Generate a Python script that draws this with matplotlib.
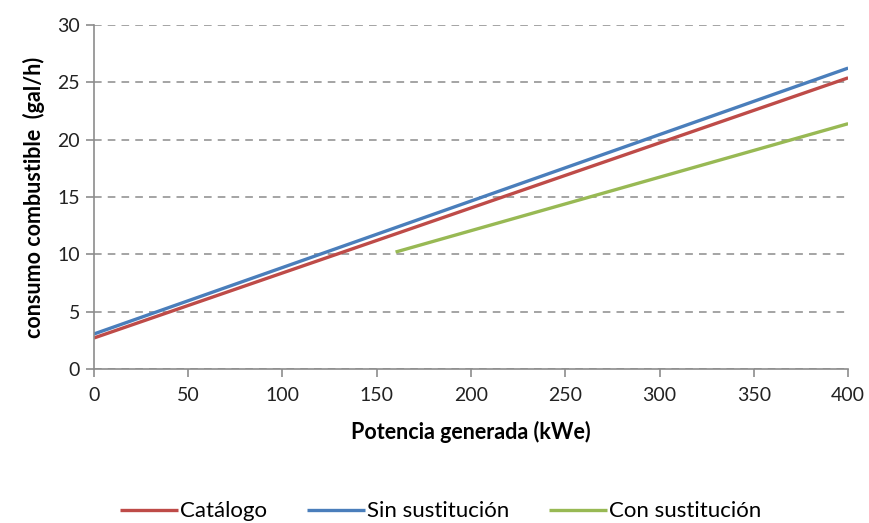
import numpy as np
import matplotlib.pyplot as plt

plt.rcParams['font.family'] = ['Lato', 'DejaVu Sans']

# datos
x_cat = [0, 200, 400]
y_cat = [2.7, 14.05, 25.4]

x_sin = [0, 200, 400]
y_sin = [3.05, 14.65, 26.25]

x_con = [160, 280, 400]
y_con = [10.2, 15.8, 21.4]

nombres = ["Catálogo", "Sin sustitución", "Con sustitución"]
colores = ["#BE4B48", "#4A7EBB", "#98B954"]

fig = plt.figure(figsize=(8.69, 5.23), dpi=100)
ax = fig.add_axes([0.108, 0.2945, 0.868, 0.6575])

ax.plot(x_cat, y_cat, color=colores[0], lw=2.4, label=nombres[0], solid_capstyle='butt')
ax.plot(x_sin, y_sin, color=colores[1], lw=2.4, label=nombres[1], solid_capstyle='butt')
ax.plot(x_con, y_con, color=colores[2], lw=2.4, label=nombres[2], solid_capstyle='butt')

ax.set_xlim(0, 400)
ax.set_ylim(0, 30)
ax.set_xticks(np.arange(0, 401, 50))
ax.set_yticks(np.arange(0, 31, 5))

ax.grid(axis='y', color='#8c8c8c', ls=(0, (5, 4)), lw=1.1)
ax.set_axisbelow(True)

for s in ['top', 'right']:
    ax.spines[s].set_visible(False)
for s in ['left', 'bottom']:
    ax.spines[s].set_color('#8c8c8c')
    ax.spines[s].set_linewidth(1.2)

ax.tick_params(axis='both', direction='out', length=6, width=1.2, color='#8c8c8c',
               labelsize=14, labelcolor='#222222')
ax.tick_params(axis='x', pad=7)
ax.tick_params(axis='y', pad=4)

ax.set_xlabel("Potencia generada (kWe)", fontsize=15.5, fontweight='bold', labelpad=12)
ax.set_ylabel("consumo combustible  (gal/h)", fontsize=15.5, fontweight='bold', labelpad=9)

leg = fig.legend(loc='center', bbox_to_anchor=(0.507, 0.022), ncol=3, frameon=False,
                 fontsize=16, handlelength=2.6, handletextpad=0.1, columnspacing=1.8)

plt.savefig("out.png", dpi=100)
